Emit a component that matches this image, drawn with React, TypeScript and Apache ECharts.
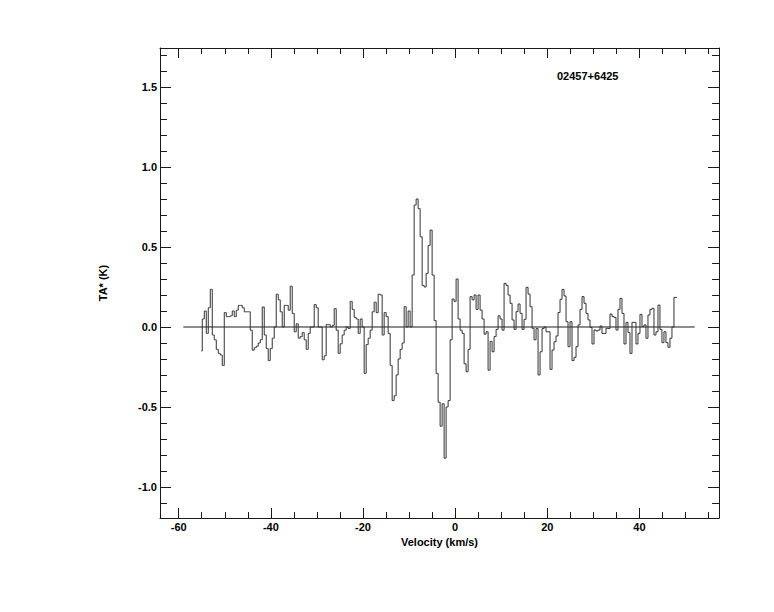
import { useEffect, useRef } from "react";
import * as echarts from "echarts";

// Spectrum channel grid (km/s)
const V_START = -55.1;
const CHANNEL_WIDTH = 0.4338;

// Antenna temperature TA* (K) per channel, read left to right
const TA = [
  -0.15, 0.05, 0.1, -0.04, 0.12, 0.235, -0.05, -0.08, -0.14, -0.165, -0.175, -0.24, 0.09, 0.065, 0.065, 0.07, 0.1, 0.065, 0.105, 0.135,
  0.135, 0.12, 0.095, 0.095, 0.095, -0.02, -0.145, -0.13, -0.12,
  -0.1, -0.08, 0.125, -0.05, -0.135, -0.21, -0.135, -0.07, 0.0, 0.205, 0.17, 0.095, 0.0, 0.135, 0.135, 0.105, 0.255, 0.085, -0.03, 0.02,
  -0.07, -0.06, -0.035, -0.08, -0.14, -0.04, 0.0, 0.0, 0.14, 0.12, 0.0, 0.0, -0.205, -0.18, 0.015, 0.015, 0.0, 0.01, 0.115, -0.02,
  -0.165, -0.105, -0.05, -0.02, 0.0, -0.01, 0.16, 0.11, 0.06, 0.05, -0.04, 0.05, 0.0, -0.29, -0.11, -0.07, -0.02, 0.095, 0.155, 0.09,
  0.205, 0.2, -0.05, 0.09, 0.065, -0.04, -0.24, -0.46, -0.43, -0.3, -0.2, -0.14, -0.1, 0.127, 0.0, 0.1, 0.0,
  0.325, 0.762, 0.8, 0.74, 0.564, 0.26, 0.25, 0.335, 0.51, 0.606, 0.325, 0.04, -0.29, -0.47, -0.62, -0.48, -0.82, -0.5, -0.46, -0.08,
  0.175, 0.16, 0.3, 0.05, -0.02, -0.04, -0.23, -0.28, -0.14, 0.19, 0.17, 0.2, 0.11,
  0.2, 0.106, 0.05, -0.045, -0.03, -0.27, -0.09, -0.155, -0.06, -0.015, 0.07, 0.05, -0.02, 0.273, 0.26, 0.2, 0.148, 0.044, -0.015, 0.096,
  0.144, 0.085, -0.015, 0.048, 0.248, 0.206, 0.127, -0.008, -0.08, -0.01, -0.3, -0.155, -0.01, 0.0, -0.03,
  -0.03, -0.265, -0.144, -0.092, -0.056, 0.09, 0.173, 0.235, 0.194, 0.033, -0.123, 0.033, -0.21, -0.19, -0.123, 0.013, 0.11, 0.19, 0.148, 0.085,
  0.044, -0.002, -0.106, -0.019, -0.025, -0.019, 0.006, -0.04, -0.04, -0.008, -0.01, 0.081, 0.065,
  0.06, -0.019, 0.11, 0.179, 0.085, -0.106, 0.029, -0.035, -0.165, 0.029, 0.029, -0.106, -0.04, 0.079, 0.002, 0.013, -0.07, 0.075, 0.11, 0.117,
  -0.05, -0.03, 0.137, -0.015, -0.098, -0.03, -0.098, -0.127, -0.07, 0.0, 0.185, 0.185,
];

// Zero baseline extent (km/s)
const BASELINE_V = [-59, 52];

// Tick values
const X_MAJOR = [-60, -40, -20, 0, 20, 40];
const X_MINOR = [-60, -55, -50, -45, -40, -35, -30, -25, -20, -15, -10, -5, 0, 5, 10, 15, 20, 25, 30, 35, 40, 45, 50, 55];
const Y_MAJOR = [-1.0, -0.5, 0.0, 0.5, 1.0, 1.5];
const Y_MINOR = [
  -1.1, -1.0, -0.9, -0.8, -0.7, -0.6, -0.5, -0.4, -0.3, -0.2, -0.1, 0.0, 0.1, 0.2, 0.3, 0.4, 0.5, 0.6, 0.7, 0.8,
  0.9, 1.0, 1.1, 1.2, 1.3, 1.4, 1.5, 1.6, 1.7,
];

const X_RANGE = [-64.06, 57.27];
const Y_RANGE = [-1.194, 1.744];

const TITLE = "02457+6425";
const X_NAME = "Velocity (km/s)";
const Y_NAME = "TA* (K)";

const INK = "#1a1a1a";
const FONT = "'Liberation Sans', Arial, Helvetica, sans-serif";

export default function App() {
  const ref = useRef<HTMLDivElement>(null);

  useEffect(() => {
    if (!ref.current) return;
    const chart = echarts.init(ref.current, undefined, { renderer: "svg" });

    const labelStyle = { fontSize: 11, fontWeight: "bold" as const, color: "#000", fontFamily: FONT };

    const xAxisBase = (position: "bottom" | "top", major: boolean, showLine: boolean, name?: string) => ({
      type: "value" as const,
      gridIndex: 0,
      position,
      min: X_RANGE[0],
      max: X_RANGE[1],
      name,
      nameLocation: "middle" as const,
      nameGap: 8,
      nameTextStyle: labelStyle,
      axisLine: { show: showLine, onZero: false, lineStyle: { color: INK, width: 1 } },
      axisTick: {
        show: true,
        inside: true,
        length: major ? 10 : 6,
        customValues: major ? X_MAJOR : X_MINOR,
        lineStyle: { color: INK, width: 1 },
      },
      axisLabel: {
        show: major && position === "bottom",
        customValues: X_MAJOR,
        margin: 3,
        ...labelStyle,
      },
      splitLine: { show: false },
    });

    const yAxisBase = (position: "left" | "right", major: boolean, showLine: boolean, name?: string) => ({
      type: "value" as const,
      gridIndex: 0,
      position,
      min: Y_RANGE[0],
      max: Y_RANGE[1],
      name,
      nameLocation: "middle" as const,
      nameGap: 52,
      nameRotate: 90,
      nameTextStyle: labelStyle,
      axisLine: { show: showLine, onZero: false, lineStyle: { color: INK, width: 1 } },
      axisTick: {
        show: true,
        inside: true,
        length: major ? 11 : 7,
        customValues: major ? Y_MAJOR : Y_MINOR,
        lineStyle: { color: INK, width: 1 },
      },
      axisLabel: {
        show: major && position === "left",
        customValues: Y_MAJOR,
        margin: 3,
        formatter: (v: number) => v.toFixed(1),
        ...labelStyle,
      },
      splitLine: { show: false },
    });

    const spectrum = TA.map((t, i) => [V_START + i * CHANNEL_WIDTH, t]);
    const baseline = BASELINE_V.map((v) => [v, 0]);

    chart.setOption({
      animation: false,
      backgroundColor: "#fff",
      title: {
        text: TITLE,
        left: 557,
        top: 70,
        padding: 0,
        textStyle: { ...labelStyle },
      },
      grid: { left: 160, top: 48, width: 559, height: 470, containLabel: false },
      xAxis: [
        xAxisBase("bottom", true, true, X_NAME),
        xAxisBase("bottom", false, false),
        xAxisBase("top", true, true),
        xAxisBase("top", false, false),
      ],
      yAxis: [
        yAxisBase("left", true, true, Y_NAME),
        yAxisBase("left", false, false),
        yAxisBase("right", true, true),
        yAxisBase("right", false, false),
      ],
      series: [
        {
          type: "line",
          xAxisIndex: 0,
          yAxisIndex: 0,
          data: baseline,
          showSymbol: false,
          lineStyle: { color: INK, width: 1 },
          silent: true,
        },
        {
          type: "line",
          xAxisIndex: 0,
          yAxisIndex: 0,
          data: spectrum,
          step: "middle",
          showSymbol: false,
          lineStyle: { color: "#333", width: 1 },
          silent: true,
        },
      ],
    });

    return () => chart.dispose();
  }, []);

  return (
    <div
      ref={ref}
      style={{ position: "fixed", left: 0, top: 0, width: 774, height: 612, background: "#fff" }}
    />
  );
}
